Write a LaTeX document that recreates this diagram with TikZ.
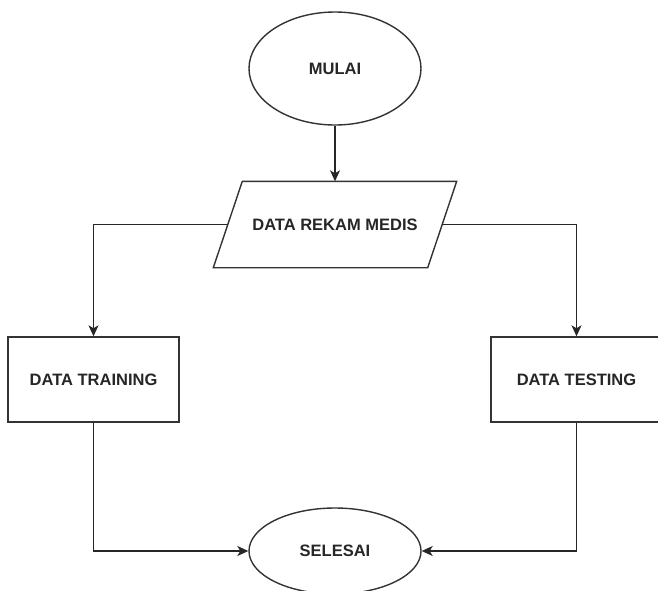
\documentclass[tikz,border=0pt]{standalone}
\usepackage{fontspec}
\setmainfont{Liberation Sans}
\usetikzlibrary{arrows.meta, positioning, shapes.geometric}
\tikzset{
  every picture/.style={font=\fontsize{16.5}{19}\selectfont\bfseries, line width=1.4pt},
  terminal/.style={draw=black!80, ellipse, inner sep=0pt, minimum width=172pt, minimum height=#1},
  terminal/.default=86pt,
  io/.style={rectangle, inner sep=0pt, minimum width=213pt, minimum height=85pt},
  box/.style={draw=black!80, rectangle, inner sep=0pt, minimum width=171pt, minimum height=85pt},
  arrow/.style={-{Stealth[length=11pt, width=10pt, inset=3pt]}, draw=black!85},
}

\begin{document}
\begin{tikzpicture}[x=1pt, y=-1pt, text=black!85]
  \useasboundingbox (0,0) rectangle (658,590);
  \node[terminal=113pt] (mulai) at (335, 68.5) {MULAI};
  \node[io] (rekam) at (335, 224.5) {DATA REKAM MEDIS};
  % slanted input box
  \draw[black!80, line join=miter] ([xshift=14.5pt]rekam.north west) -- ([xshift=14.5pt]rekam.north east)
    -- ([xshift=-14.5pt]rekam.south east) -- ([xshift=-14.5pt]rekam.south west) -- cycle;
  \node[box] (training) at (93.5, 379.5) {DATA TRAINING};
  \node[box] (testing) at (576.5, 379.5) {DATA TESTING};
  \node[terminal] (selesai) at (335, 551) {SELESAI};
  \draw[arrow] (mulai) -- (rekam);
  \draw[arrow] (rekam.west) -| (training.north);
  \draw[arrow] (rekam.east) -| (testing.north);
  \draw[arrow] (training.south) |- (selesai.west);
  \draw[arrow] (testing.south) |- (selesai.east);
\end{tikzpicture}
\end{document}
